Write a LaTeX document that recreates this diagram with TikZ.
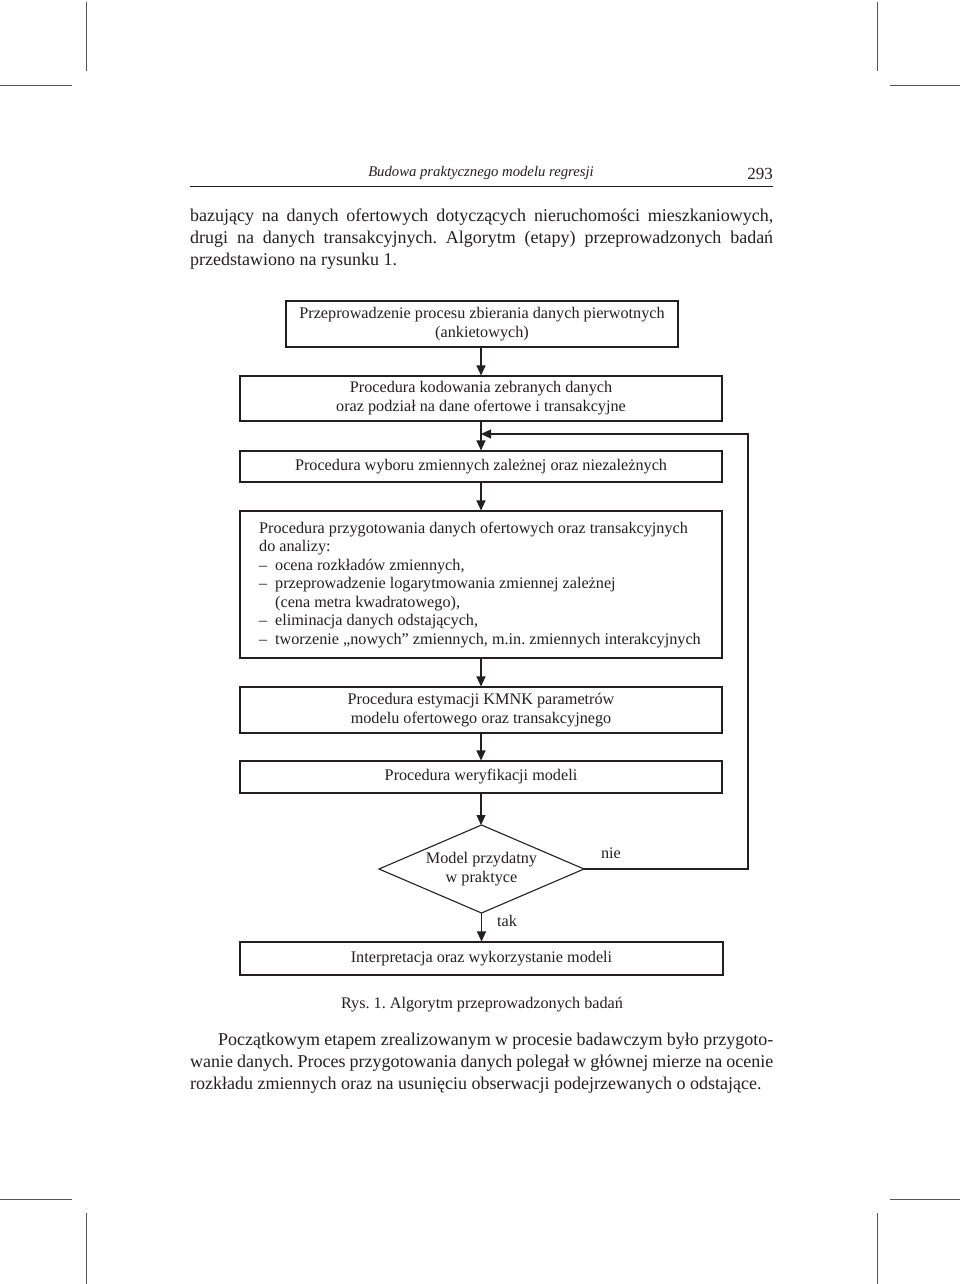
\documentclass[tikz,border=0pt]{standalone}
\usepackage{fontspec}
\setmainfont{Liberation Serif}
\usetikzlibrary{arrows.meta}
\definecolor{ink}{HTML}{231F20}
\definecolor{mark}{HTML}{555555}
\frenchspacing
\begin{document}
\frenchspacing
\begin{tikzpicture}[x=1pt,y=-1pt,
  every node/.style={text=ink},
  boxn/.style={draw=ink, line width=1.1pt, rectangle, inner sep=0pt, align=center,
    font=\fontsize{16.2pt}{19pt}\selectfont},
  flow/.style={draw=ink, line width=1.1pt, -{Triangle[length=10pt,width=9pt]}},
  cropm/.style={draw=mark, line width=1pt},
  bodyt/.style={anchor=base west, inner sep=0pt, font=\fontsize{18pt}{22pt}\selectfont},
  lbl/.style={inner sep=0pt, font=\fontsize{16.2pt}{19pt}\selectfont}]
\useasboundingbox (0,0) rectangle (960,1284);
% crop marks
\draw[cropm] (86,2) -- (86,71);
\draw[cropm] (0,86) -- (72,86);
\draw[cropm] (877,2) -- (877,71);
\draw[cropm] (890,86) -- (960,86);
\draw[cropm] (0,1199) -- (72,1199);
\draw[cropm] (86,1213) -- (86,1284);
\draw[cropm] (890,1199) -- (960,1199);
\draw[cropm] (877,1213) -- (877,1284);
% header
\node[anchor=base, inner sep=0pt, font=\fontsize{14.7pt}{16pt}\selectfont\itshape] (hdr) at (481,177) {Budowa praktycznego modelu regresji};
\node[anchor=base east, inner sep=0pt, font=\fontsize{17pt}{20pt}\selectfont] (pg) at (773,179) {293};
\draw[draw=ink, line width=1pt] (190,187) -- (773,187);
% body text
\node[bodyt] (b1) at (190,221) {\makebox[583pt][s]{bazujący na danych ofertowych dotyczących nieruchomości mieszkaniowych,}};
\node[bodyt] (b2) at (190,243) {\makebox[583pt][s]{drugi na danych transakcyjnych. Algorytm (etapy) przeprowadzonych badań}};
\node[bodyt] (b3) at (190,265) {przedstawiono na rysunku 1.};
% boxes
\node[boxn, minimum width=392pt, minimum height=46pt] (n1) at (482,324) {Przeprowadzenie procesu zbierania danych pierwotnych\\(ankietowych)};
\node[boxn, minimum width=482pt, minimum height=45pt] (n2) at (481,398.5) {Procedura kodowania zebranych danych\\oraz podział na dane ofertowe i transakcyjne};
\node[boxn, minimum width=482pt, minimum height=31pt] (n3) at (481,466.5) {Procedura wyboru zmiennych zależnej oraz niezależnych};
\node[boxn, minimum width=482pt, minimum height=147pt] (n4) at (481,584.5) {};
\node[lbl, anchor=north west, align=left, font=\fontsize{16.2pt}{18.5pt}\selectfont] (n4t) at (259,521.8) {Procedura przygotowania danych ofertowych oraz transakcyjnych\\
do analizy:\\
\makebox[16pt][l]{–}ocena rozkładów zmiennych,\\
\makebox[16pt][l]{–}przeprowadzenie logarytmowania zmiennej zależnej\\
\makebox[16pt][l]{}(cena metra kwadratowego),\\
\makebox[16pt][l]{–}eliminacja danych odstających,\\
\makebox[16pt][l]{–}tworzenie „nowych” zmiennych, m.in. zmiennych interakcyjnych};
\node[boxn, minimum width=482pt, minimum height=46pt] (n5) at (481,710) {Procedura estymacji KMNK parametrów\\modelu ofertowego oraz transakcyjnego};
\node[boxn, minimum width=482pt, minimum height=32pt] (n6) at (481,777) {Procedura weryfikacji modeli};
% diamond
\coordinate (dT) at (481.5,825);
\coordinate (dB) at (481.5,913);
\coordinate (dL) at (379,869);
\coordinate (dR) at (584,869);
\draw[draw=ink, line width=1.1pt] (dT) -- (dR) -- (dB) -- (dL) -- cycle;
\node[lbl, align=center] (dtext) at (481.5,869) {Model przydatny\\w praktyce};
\node[boxn, minimum width=483pt, minimum height=33pt] (n7) at (481.5,958.5) {Interpretacja oraz wykorzystanie modeli};
% connectors
\draw[flow] (n1.south -| 481,0) -- (n2.north -| 481,0);
\draw[flow] (n2.south) -- (n3.north);
\draw[flow] (n3.south) -- (n4.north);
\draw[flow] (n4.south) -- (n5.north);
\draw[flow] (n5.south) -- (n6.north);
\draw[flow] (n6.south) -- (dT -| n6.south);
\draw[flow] (dB -| n7.north) -- (n7.north);
\coordinate (fbR) at (748,869);
\coordinate (fbIn) at (481,434);
\draw[flow] (dR) -- (fbR) |- (fbIn);
\node[lbl, anchor=base] (nie) at (611,858) {nie};
\node[lbl, anchor=base] (tak) at (507,926) {tak};
% caption
\node[anchor=base, inner sep=0pt, font=\fontsize{16.2pt}{18pt}\selectfont] (cap) at (482,1008) {Rys. 1. Algorytm przeprowadzonych badań};
% final paragraph
\node[bodyt] (p1) at (218,1045) {\makebox[555pt][s]{Początkowym etapem zrealizowanym w procesie badawczym było przygoto-}};
\node[bodyt] (p2) at (190,1067) {\makebox[583pt][s]{wanie danych. Proces przygotowania danych polegał w głównej mierze na ocenie}};
\node[bodyt] (p3) at (190,1089) {rozkładu zmiennych oraz na usunięciu obserwacji podejrzewanych o odstające.};
\end{tikzpicture}
\end{document}
